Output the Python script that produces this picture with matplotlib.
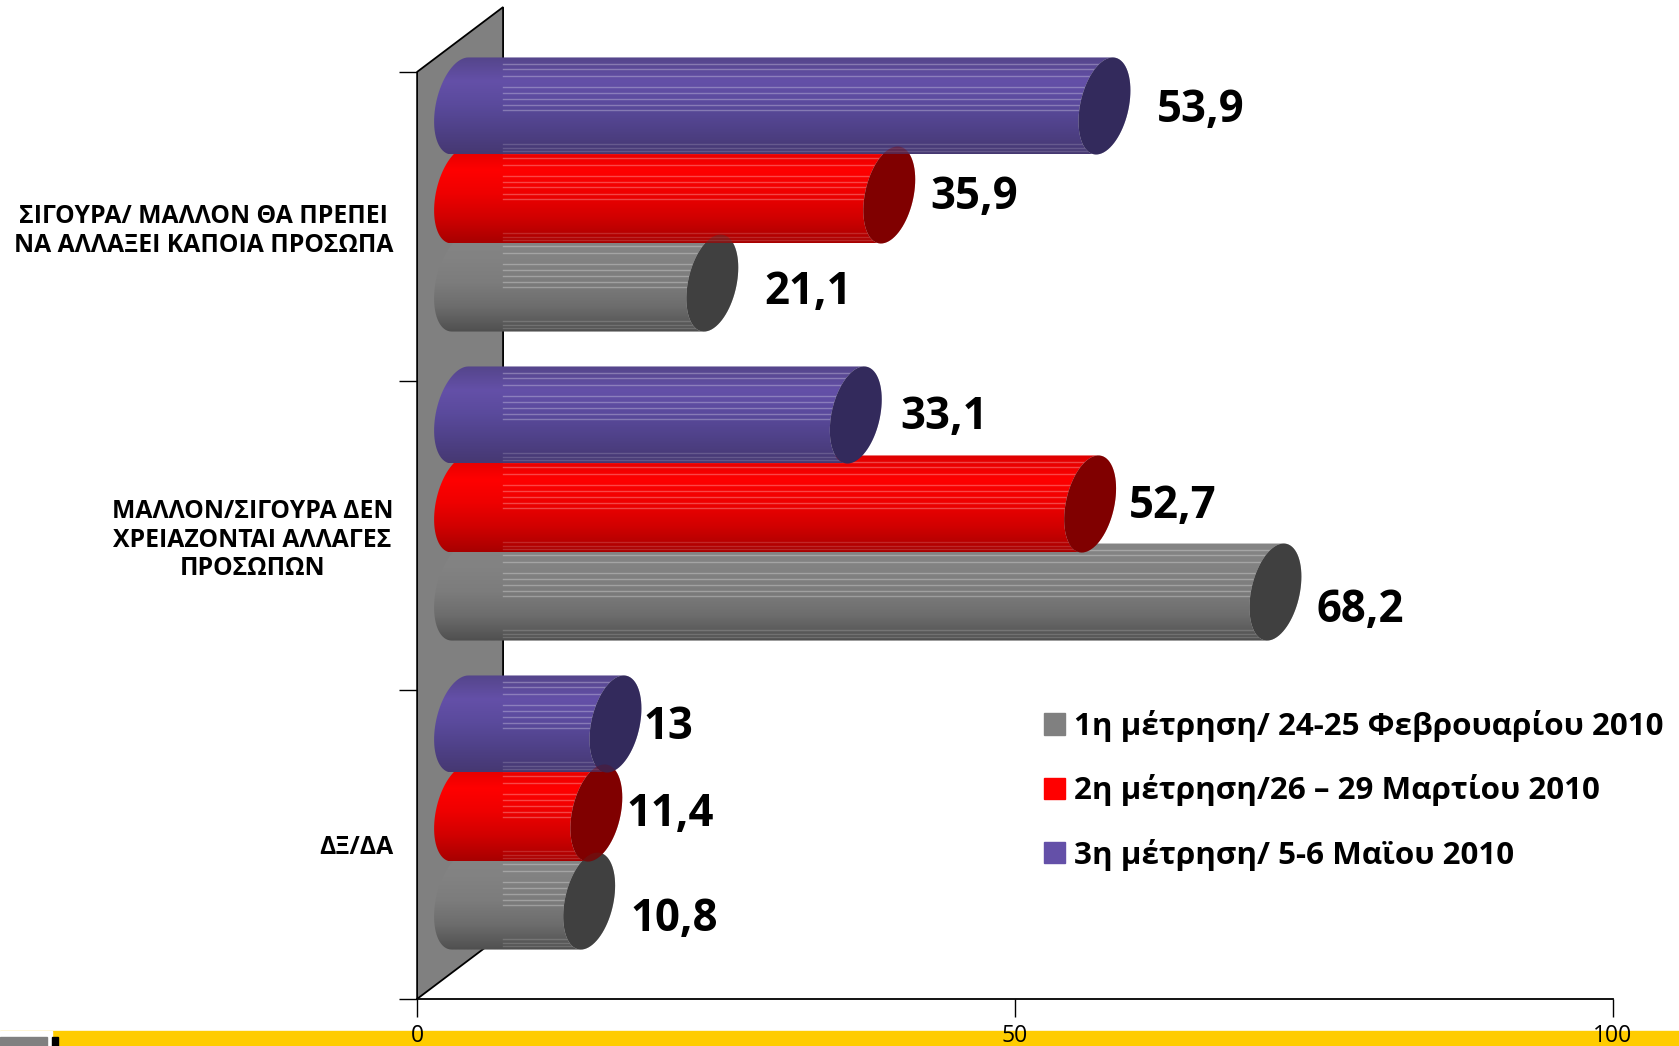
import numpy as np
import matplotlib
matplotlib.use('Agg')
import matplotlib.pyplot as plt
from matplotlib.patches import Polygon, Patch, Rectangle
from matplotlib.colors import LinearSegmentedColormap

plt.rcParams['font.family'] = ['Open Sans', 'DejaVu Sans']

categories = ['ΣΙΓΟΥΡΑ/ ΜΑΛΛΟΝ ΘΑ ΠΡΕΠΕΙ\nΝΑ ΑΛΛΑΞΕΙ ΚΑΠΟΙΑ ΠΡΟΣΩΠΑ',
              'ΜΑΛΛΟΝ/ΣΙΓΟΥΡΑ ΔΕΝ\nΧΡΕΙΑΖΟΝΤΑΙ ΑΛΛΑΓΕΣ\nΠΡΟΣΩΠΩΝ',
              'ΔΞ/ΔΑ']
series_names = ['1η μέτρηση/ 24-25 Φεβρουαρίου 2010',
                '2η μέτρηση/26 – 29 Μαρτίου 2010',
                '3η μέτρηση/ 5-6 Μαϊου 2010']
gray_vals = [21.1, 68.2, 10.8]
red_vals = [35.9, 52.7, 11.4]
purple_vals = [53.9, 33.1, 13]
x_ticks = [0, 50, 100]

# per series: values, slot offset, gradient, end cap, legend colour, label nudges (px)
series = [
    (gray_vals, 0.183, ['#858585', '#828282', '#7c7c7c', '#6c6c6c', '#505050'], '#404040', '#808080',
     [(26, -9), (15, -18), (15, -18)]),
    (red_vals, -0.102, ['#dd0000', '#ff0000', '#ee0000', '#d00000', '#a80000'], '#800000', '#ff0000',
     [(15, -3), (13, -3), (4, -2)]),
    (purple_vals, -0.39, ['#54458a', '#6450a8', '#5a4a9c', '#4f4188', '#463872'], '#332a5c', '#6450a8',
     [(26, -5), (19, -3), (2, -4)]),
]

# fake 3D depth of the plot, in data units
depth_x = 7.2
depth_y = 0.21
ell_w = 2.17
ell_h = 0.157
ell_skew = 0.32
streaks = [0.065, 0.116, 0.195, 0.304, 0.362, 0.423, 0.485, 0.543, 0.894, 0.93, 0.96]

fig = plt.figure(figsize=(16.79, 10.46), dpi=100)

# yellow footer band
fig.patches.append(Rectangle((0, 0), 1, 15 / 1046, transform=fig.transFigure, color='#ffcc00', zorder=-3))
fig.patches.append(Rectangle((0, 0), 52 / 1679, 15 / 1046, transform=fig.transFigure, color='white', zorder=-2))
fig.patches.append(Rectangle((0, 0), 47 / 1679, 9 / 1046, transform=fig.transFigure, color='#808080', zorder=-1))
fig.patches.append(Rectangle((52 / 1679, 0), 6 / 1679, 9 / 1046, transform=fig.transFigure, color='black', zorder=-1))

ax = fig.add_axes([417 / 1679, 47 / 1046, 1195.6 / 1679, 995 / 1046])
ax.patch.set_alpha(0)
ax.set_xlim(0, 100)
ax.set_ylim(3, -0.22)

ax.add_patch(Polygon([(0, 0), (depth_x, -depth_y), (depth_x, 3 - depth_y), (0, 3)],
                     facecolor='#808080', edgecolor='black', lw=1.3, zorder=1))


def ellipse(cx, cy, t):
    return cx + ell_w * np.cos(t), cy - ell_h * np.sin(t + np.arcsin(ell_skew))


g = np.linspace(0, 1, 64).reshape(-1, 1)

z = 2
for vals, off, grad, cap_col, leg_col, nudges in series:
    cmap = LinearSegmentedColormap.from_list('bar', grad)
    for i, v in enumerate(vals):
        cy = i + 0.5 + off
        x0 = depth_x / 2
        x1 = x0 + v
        # body outline: left half of the near ellipse and right half of the far one
        ta = np.linspace(np.pi / 2 - 0.33, 3 * np.pi / 2 - 0.33, 40)
        lx, ly = ellipse(x0, cy, ta)
        rx, ry = ellipse(x1, cy, ta[::-1])
        body = Polygon(np.column_stack([np.r_[lx, rx], np.r_[ly, ry]]), closed=True,
                       facecolor='none', edgecolor='none', zorder=z)
        ax.add_patch(body)
        im = ax.imshow(g, cmap=cmap, aspect='auto', zorder=z, interpolation='bilinear',
                       extent=[x0 - ell_w, x1 + ell_w, cy + ell_h, cy - ell_h])
        im.set_clip_path(body)
        for f in streaks:
            yy = cy - ell_h + 2 * ell_h * f
            ln, = ax.plot([depth_x, x1 + ell_w], [yy, yy], color='white',
                          alpha=0.28 if f < 0.8 else 0.16, lw=1, zorder=z)
            ln.set_clip_path(body)
        # end cap, second copy shows faintly through the tube above it
        t = np.linspace(0, 2 * np.pi, 80)
        ex, ey = ellipse(x1, cy, t)
        ax.fill(ex, ey, color=cap_col, lw=0, zorder=z + 0.5)
        ax.fill(ex, ey, color=cap_col, lw=0, alpha=0.35, zorder=10)
        ax.annotate(f'{v:g}'.replace('.', ','), xy=(x1 + ell_w, cy),
                    xytext=(nudges[i][0], nudges[i][1]), textcoords='offset pixels',
                    ha='left', va='center', fontsize=31.5, fontweight='bold', color='black', zorder=20)
    z += 1

ax.set_xlim(0, 100)
ax.set_ylim(3, -0.22)

for s in ['top', 'right']:
    ax.spines[s].set_visible(False)
ax.spines['left'].set_bounds(0, 3)
ax.spines['left'].set_zorder(1.5)
ax.spines['left'].set_linewidth(1.1)
ax.spines['bottom'].set_linewidth(1.3)

ax.set_xticks(x_ticks)
ax.tick_params(axis='x', length=13, width=1, pad=5, labelsize=16.5)
ax.set_yticks([0.5, 1.5, 2.5])
ax.set_yticklabels(categories, fontsize=17.8, fontweight='bold', multialignment='center', linespacing=1.17)
ax.set_yticks([0, 1, 2, 3], minor=True)
ax.tick_params(axis='y', which='major', length=0, pad=17)
ax.tick_params(axis='y', which='minor', length=13, width=1)

handles = [Patch(color=s[4]) for s in series]
leg = ax.legend(handles, series_names, loc='upper left', bbox_to_anchor=(1044 / 1679, (1046 - 710) / 1046),
                bbox_transform=fig.transFigure, frameon=False, fontsize=22.6, handlelength=0.66, handleheight=0.66,
                handletextpad=0.29, labelspacing=1.03, borderpad=0, borderaxespad=0)
for txt in leg.get_texts():
    txt.set_fontweight('bold')

fig.savefig('out.png', dpi=100)
